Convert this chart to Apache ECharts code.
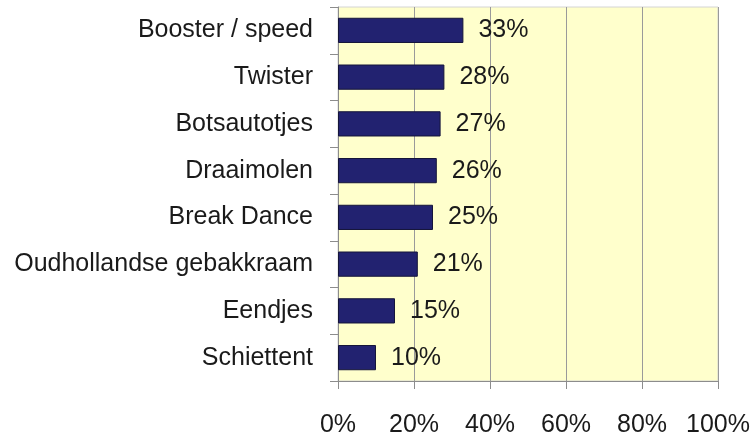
<!DOCTYPE html>
<html>
<head>
<meta charset="utf-8">
<script src="https://cdn.jsdelivr.net/npm/echarts@6/dist/echarts.min.js"></script>
<style>
  html, body { margin: 0; padding: 0; background: #fff; }
  #chart { width: 754px; height: 438px; }
</style>
</head>
<body>
<div id="chart"></div>
<script>
// bottom-to-top order for the category axis
const categories = ['Schiettent', 'Eendjes', 'Oudhollandse gebakkraam', 'Break Dance',
  'Draaimolen', 'Botsautotjes', 'Twister', 'Booster / speed']
const values = [10, 15, 21, 25, 26, 27, 28, 33]
const xTicks = [0, 20, 40, 60, 80, 100]

const chart = echarts.init(document.getElementById('chart'))
const font = 'Liberation Sans, Arial, sans-serif'

chart.setOption({
  animation: false,
  grid: {
    left: 338,
    right: 36,
    top: 7,
    bottom: 51,
    show: true,
    backgroundColor: '#ffffcc',
    borderColor: '#d4d4d4',
    borderWidth: 1
  },
  xAxis: {
    type: 'value',
    min: xTicks[0],
    max: xTicks[xTicks.length - 1],
    interval: 20,
    axisLine: { show: true, lineStyle: { color: '#8c8c8c' } },
    axisTick: { show: true, length: 8, lineStyle: { color: '#8c8c8c' } },
    splitLine: { show: true, lineStyle: { color: '#9a9a9a' } },
    axisLabel: {
      margin: 32,
      fontFamily: font,
      fontSize: 25,
      color: '#1a1a1a',
      formatter: '{value}%'
    }
  },
  yAxis: {
    type: 'category',
    data: categories,
    axisLine: { show: true, lineStyle: { color: '#8c8c8c' } },
    axisTick: { show: true, length: 8, lineStyle: { color: '#8c8c8c' } },
    axisLabel: {
      margin: 25,
      fontFamily: font,
      fontSize: 25,
      color: '#1a1a1a'
    }
  },
  series: [{
    type: 'bar',
    data: values,
    barCategoryGap: '46%',
    itemStyle: { color: '#222270', borderColor: '#15153a', borderWidth: 1 },
    label: {
      show: true,
      position: 'right',
      distance: 15,
      fontFamily: font,
      fontSize: 25,
      color: '#1a1a1a',
      formatter: '{c}%'
    }
  }]
})
</script>
</body>
</html>
